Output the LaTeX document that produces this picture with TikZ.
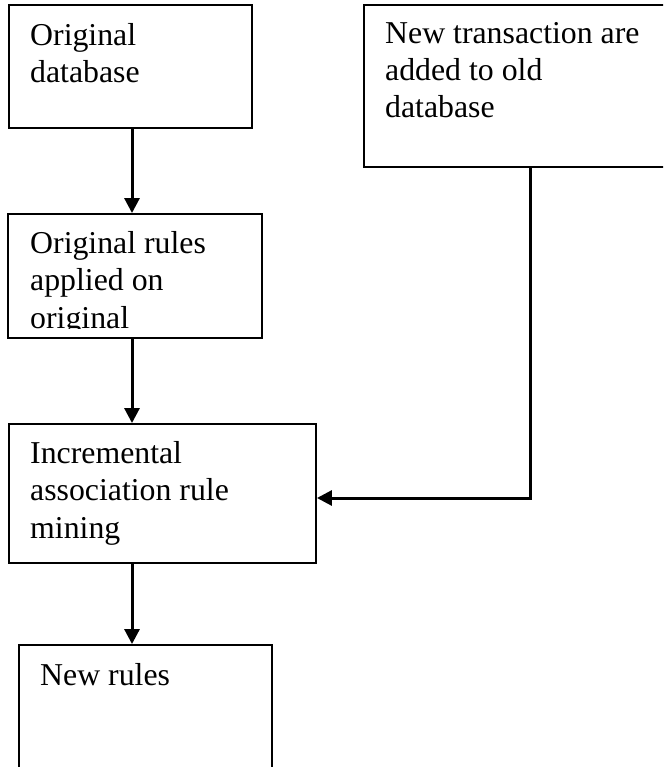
\documentclass[tikz,border=0pt]{standalone}
\usepackage{fontspec}
\setmainfont{Liberation Serif}
\usetikzlibrary{arrows.meta}
\tikzset{
  box/.style={draw=black, line width=1.9pt, rectangle, inner sep=0pt, fill=none},
  txt/.style={anchor=north west, inner sep=0pt, align=left, font=\fontsize{31.8}{37.2}\selectfont},
  arr/.style={line width=3pt, -{Triangle[length=15pt,width=15pt]}},
}
\begin{document}
\begin{tikzpicture}[x=1pt,y=-1pt]
\useasboundingbox (0,0) rectangle (663,767);
\clip (0,0) rectangle (663,767);
% boxes
\node[box, minimum width=243pt, minimum height=123pt] (b1) at (130.5,66.5) {};
\node[box, minimum width=308pt, minimum height=162pt] (b2) at (518,86) {};
\node[box, minimum width=254pt, minimum height=124pt] (b3) at (135,276) {};
\node[box, minimum width=307pt, minimum height=139pt] (b4) at (162.5,493.5) {};
\node[box, minimum width=253pt, minimum height=165pt] (b5) at (145.5,727.5) {};
% texts
\node[txt] (t1) at (30,23.5) {Original\\database};
\node[txt] (t2) at (385,22) {New transaction are\\added to old\\database};
\begin{scope}
\clip (0,214) rectangle (300,328);
\node[txt] (t3) at (30,231.5) {Original rules\\applied on\\original};
\end{scope}
\node[txt] (t4) at (30,441.5) {Incremental\\association rule\\mining};
\node[txt] (t5) at (40,663.5) {New rules};
% connectors
\coordinate (ax) at (132,0);
\draw[arr] (b1.south -| ax) -- (b3.north -| ax);
\draw[arr] (b3.south -| ax) -- (b4.north -| ax);
\draw[arr] (b4.south -| ax) -- (b5.north -| ax);
\draw[arr] ([xshift=12pt]b2.south) |- ([yshift=-4.5pt]b4.east);
\end{tikzpicture}
\end{document}
